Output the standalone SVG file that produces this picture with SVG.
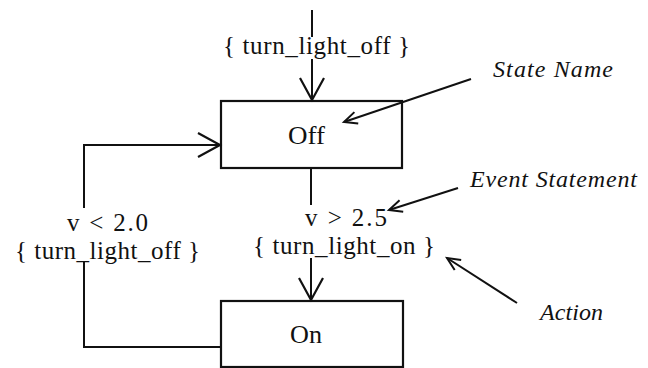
<svg xmlns="http://www.w3.org/2000/svg" width="648" height="368" viewBox="0 0 648 368">
<style>
.box{fill:none;stroke:#111;stroke-width:2.2}
.ln{fill:none;stroke:#111;stroke-width:2}
.t{font-family:"Liberation Serif","Times New Roman",serif;font-size:25px;fill:#111}
.it{font-family:"Liberation Serif","Times New Roman",serif;font-style:italic;font-size:24px;fill:#111}
</style>
<defs>
<marker id="big" viewBox="-25 -14 27 28" refX="0" refY="0" markerWidth="27" markerHeight="28" markerUnits="userSpaceOnUse" orient="auto" overflow="visible">
<path d="M-22,-12 L0,0 L-22,12" fill="none" stroke="#111" stroke-width="2.2"/>
</marker>
<marker id="small" viewBox="-15 -8 17 16" refX="0" refY="0" markerWidth="17" markerHeight="16" markerUnits="userSpaceOnUse" orient="auto" overflow="visible">
<path d="M-13,-6 L0,0 L-13,6" fill="none" stroke="#111" stroke-width="2"/>
</marker>
</defs>
<g id="off">
<rect class="box" x="221" y="101" width="181" height="67"/>
<text class="t" x="288" y="144" textLength="37" lengthAdjust="spacingAndGlyphs">Off</text>
</g>
<g id="on">
<rect class="box" x="221" y="301" width="182" height="66"/>
<text class="t" x="290" y="343" textLength="32" lengthAdjust="spacingAndGlyphs">On</text>
</g>
<g id="connectors">
<path class="ln" d="M312,10 V37"/>
<path class="ln" d="M312,59 V100" marker-end="url(#big)"/>
<path class="ln" d="M311,168 V205"/>
<path class="ln" d="M311,258 V300" marker-end="url(#big)"/>
<path class="ln" d="M221,347 H84 V262"/>
<path class="ln" d="M84,208 V145 H220" marker-end="url(#big)"/>
<path class="ln" d="M471,79 L344,122" marker-end="url(#small)"/>
<path class="ln" d="M458,188 L389,210" marker-end="url(#small)"/>
<path class="ln" d="M517,303 L447,258" marker-end="url(#small)"/>
</g>
<g id="labels">
<text class="t" x="223" y="54" textLength="187" lengthAdjust="spacing">{ turn_light_off }</text>
<text class="t" x="305" y="226" textLength="82" lengthAdjust="spacing">v &gt; 2.5</text>
<text class="t" x="253" y="254" textLength="182" lengthAdjust="spacing">{ turn_light_on }</text>
<text class="t" x="67" y="231" textLength="81" lengthAdjust="spacing">v &lt; 2.0</text>
<text class="t" x="15" y="259" textLength="185" lengthAdjust="spacing">{ turn_light_off }</text>
</g>
<g id="annotations">
<text class="it" x="493" y="77" textLength="120" lengthAdjust="spacing">State Name</text>
<text class="it" x="470" y="187" textLength="167" lengthAdjust="spacing">Event Statement</text>
<text class="it" x="540" y="320" textLength="63" lengthAdjust="spacing">Action</text>
</g>
</svg>
